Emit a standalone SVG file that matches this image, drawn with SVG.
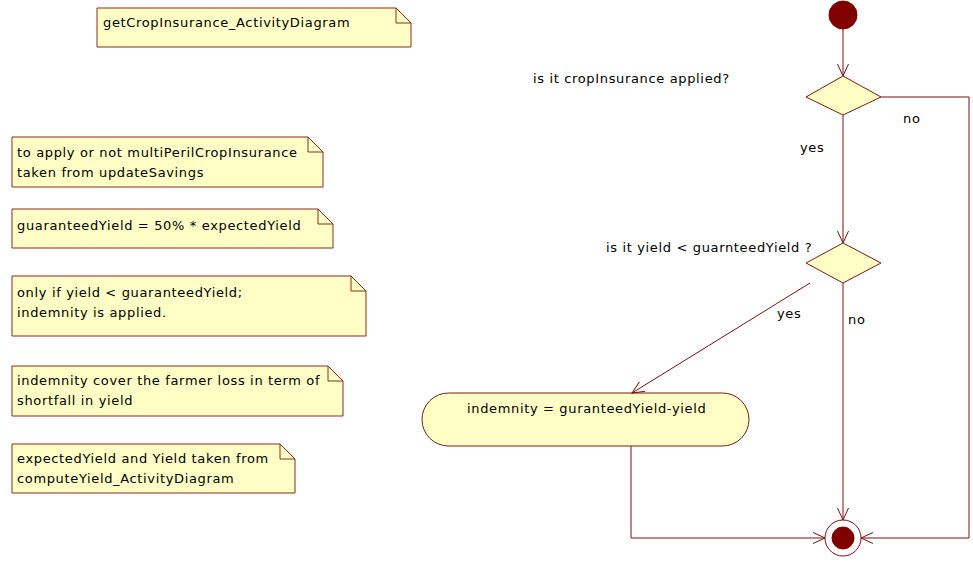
<svg xmlns="http://www.w3.org/2000/svg" width="973" height="565" viewBox="0 0 973 565">
<defs>
<style>
text{font-family:"DejaVu Sans","Liberation Sans",sans-serif;font-size:13px;letter-spacing:0.65px;fill:#000}
.note path.body{fill:#FFFFC6;stroke:#8B2A1A;stroke-width:1}
.note path.fold{fill:none;stroke:#8B2A1A;stroke-width:1}
.dec{fill:#FFFFC6;stroke:#7A1A10;stroke-width:1}
.act{fill:#FFFFC6;stroke:#7A1A10;stroke-width:1}
.conn{fill:none;stroke:#7A1010;stroke-width:1;marker-end:url(#arr)}
.solid{fill:#800000;stroke:#800000}
</style>
<marker id="arr" markerUnits="userSpaceOnUse" markerWidth="14" markerHeight="14" viewBox="0 0 14 14" refX="13" refY="7" orient="auto">
<path d="M1,1.5 L13,7 L1,12.5" fill="none" stroke="#7A1010" stroke-width="1"/>
</marker>
</defs>
<rect width="973" height="565" fill="#fff"/>

<g id="note1" class="note">
<path class="body" d="M97,8 H396 L411,23 V47 H97 Z"/>
<path class="fold" d="M396,8 V23 H411"/>
<text x="103" y="27">getCropInsurance_ActivityDiagram</text>
</g>
<g id="note2" class="note">
<path class="body" d="M12,137 H308 L323,152 V187 H12 Z"/>
<path class="fold" d="M308,137 V152 H323"/>
<text x="17" y="157">to apply or not multiPerilCropInsurance</text>
<text x="17" y="177">taken from updateSavings</text>
</g>
<g id="note3" class="note">
<path class="body" d="M12,209 H318 L333,224 V248 H12 Z"/>
<path class="fold" d="M318,209 V224 H333"/>
<text x="17" y="230">guaranteedYield = 50% * expectedYield</text>
</g>
<g id="note4" class="note">
<path class="body" d="M12,276 H351 L366,291 V336 H12 Z"/>
<path class="fold" d="M351,276 V291 H366"/>
<text x="17" y="297">only if yield &lt; guaranteedYield;</text>
<text x="17" y="317">indemnity is applied.</text>
</g>
<g id="note5" class="note">
<path class="body" d="M12,366 H328 L343,381 V416 H12 Z"/>
<path class="fold" d="M328,366 V381 H343"/>
<text x="17" y="385">indemnity cover the farmer loss in term of</text>
<text x="17" y="405">shortfall in yield</text>
</g>
<g id="note6" class="note">
<path class="body" d="M12,444 H280 L295,459 V493 H12 Z"/>
<path class="fold" d="M280,444 V459 H295"/>
<text x="17" y="463">expectedYield and Yield taken from</text>
<text x="17" y="483">computeYield_ActivityDiagram</text>
</g>

<g id="start">
<circle class="solid" cx="843" cy="15" r="14"/>
</g>
<g id="decision1">
<path class="dec" d="M843,76 L881,97 L843,115 L806,97 Z"/>
<text x="533" y="83">is it cropInsurance applied?</text>
</g>
<g id="decision2">
<path class="dec" d="M843,243 L881,263 L843,283 L806,263 Z"/>
<text x="606" y="252">is it yield &lt; guarnteedYield ?</text>
</g>
<g id="action">
<rect class="act" x="422" y="393" width="327" height="53" rx="26.5" ry="26.5"/>
<text x="467" y="413">indemnity = guranteedYield-yield</text>
</g>
<g id="final">
<circle cx="843" cy="538" r="18" fill="#fff" stroke="#7A1010" stroke-width="1"/>
<circle class="solid" cx="843" cy="538" r="11"/>
</g>

<g id="connectors">
<path class="conn" d="M843,29 V76"/>
<path class="conn" d="M843,115 V243"/>
<text x="800" y="152">yes</text>
<path class="conn" d="M881,97 H969 V538 H861"/>
<text x="903" y="123">no</text>
<path class="conn" d="M810,283 L632,393"/>
<text x="777" y="318">yes</text>
<path class="conn" d="M843,283 V520"/>
<text x="848" y="324">no</text>
<path class="conn" d="M631,446 V538 H825"/>
</g>
</svg>
